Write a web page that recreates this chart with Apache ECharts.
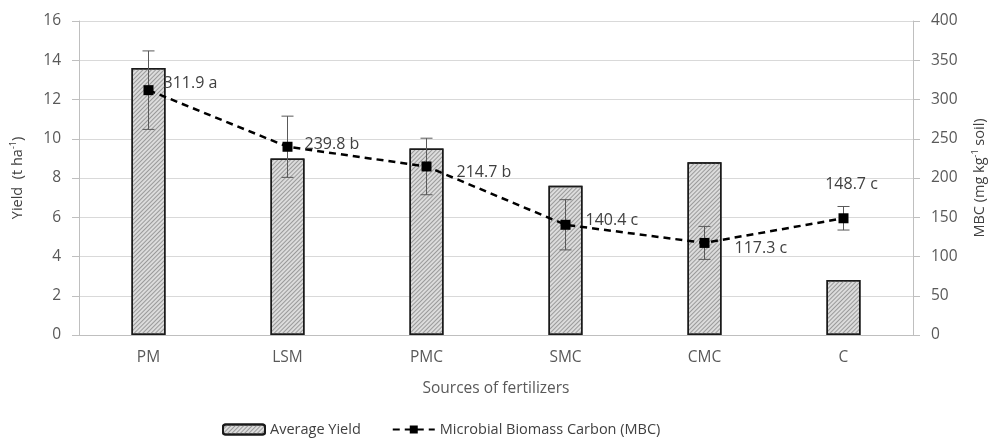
<!DOCTYPE html>
<html><head><meta charset="utf-8">
<script src="https://cdn.jsdelivr.net/npm/echarts@6/dist/echarts.min.js"></script>
<style>html,body{margin:0;padding:0;background:#fff}#c{width:992px;height:444px}</style>
</head><body><div id="c"></div>
<script>
var categories = ['PM','LSM','PMC','SMC','CMC','C'];
var yieldValues = [13.6, 9.0, 9.5, 7.6, 8.8, 2.8];
var mbcValues = [311.9, 239.8, 214.7, 140.4, 117.3, 148.7];
var mbcErrors = [50, 39, 36, 32, 21, 15];
var mbcLetters = ['a','b','b','c','c','c'];
var yieldTicks = [0,2,4,6,8,10,12,14,16];
var mbcTicks = [0,50,100,150,200,250,300,350,400];

var FONT = 'Open Sans';
var txt = '#595959';
var labelPos = [
  {position:'right', offset:[5,-7]},
  {position:'right', offset:[7,-2]},
  {position:'right', offset:[20,6]},
  {position:'right', offset:[10,-4]},
  {position:'right', offset:[20,6]},
  {position:'top', offset:[8,-16]}
];
var chart = echarts.init(document.getElementById('c'), null, {renderer:'canvas'});
var errData = categories.map(function(c,i){ return [i, mbcValues[i]-mbcErrors[i], mbcValues[i]+mbcErrors[i]]; });
chart.setOption({
  animation:false,
  textStyle:{fontFamily:FONT},
  grid:{left:79,right:79,top:21,bottom:109,containLabel:false,outerBoundsMode:'none'},
  legend:{
    bottom:2, left:217, itemGap:31, itemWidth:42, itemHeight:10,
    textStyle:{fontFamily:FONT,fontSize:14.5,color:'#404040'},
    data:[{name:'Average Yield'},{name:'Microbial Biomass Carbon (MBC)'}]
  },
  xAxis:{
    type:'category', data:categories,
    name:'Sources of fertilizers', nameLocation:'middle', nameGap:46,
    nameTextStyle:{fontSize:15.5,color:txt,fontFamily:FONT},
    axisLine:{lineStyle:{color:'#bfbfbf',width:1}},
    axisTick:{show:false},
    axisLabel:{fontSize:15.5,color:txt,margin:15,fontFamily:FONT}
  },
  yAxis:[{
    type:'value', min:0, max:16, interval:2,
    name:'{a|Yield  (t ha}{s|-1}{a|)}', nameLocation:'middle', nameGap:53, nameRotate:90,
    nameTextStyle:{rich:{a:{fontSize:14.5,color:'#404040',fontFamily:FONT},s:{fontSize:9,color:'#404040',padding:[0,0,8,0],fontFamily:FONT}}},
    axisLine:{show:true,lineStyle:{color:'#bfbfbf'}},
    axisTick:{show:true,length:7,lineStyle:{color:'#bfbfbf'}},
    axisLabel:{fontSize:15.5,color:txt,margin:18,fontFamily:FONT},
    splitLine:{lineStyle:{color:'#d9d9d9',width:1}}
  },{
    type:'value', min:0, max:400, interval:50,
    name:'{a|MBC (mg kg}{s|-1}{a| soil)}', nameLocation:'middle', nameGap:58, nameRotate:90,
    nameTextStyle:{rich:{a:{fontSize:14.5,color:'#404040',fontFamily:FONT},s:{fontSize:9,color:'#404040',padding:[0,0,8,0],fontFamily:FONT}}},
    axisLine:{show:true,lineStyle:{color:'#bfbfbf'}},
    axisTick:{show:true,length:7,lineStyle:{color:'#bfbfbf'}},
    axisLabel:{fontSize:15.5,color:txt,margin:18,fontFamily:FONT},
    splitLine:{show:false}
  }],
  series:[{
    name:'Average Yield', type:'bar', data:yieldValues, barWidth:34, yAxisIndex:0,
    itemStyle:{color:'#dcdcdc', borderColor:'#1a1a1a', borderWidth:1.5,
      decal:{symbol:'rect', symbolSize:1, dashArrayX:[1,0], dashArrayY:[1,1.5], rotation:-Math.PI/4, color:'#9a9a9a'}}
  },{
    name:'Microbial Biomass Carbon (MBC)', type:'line', yAxisIndex:1, z:5,
    data:mbcValues.map(function(v,i){ return {value:v, label:{position:labelPos[i].position, offset:labelPos[i].offset}}; }),
    symbol:'rect', symbolSize:10,
    lineStyle:{color:'#000',width:2.5,type:[7,5]},
    itemStyle:{color:'#000'},
    label:{show:true, fontSize:16, color:'#404040', fontFamily:FONT,
      formatter:function(p){ return mbcValues[p.dataIndex].toFixed(1)+' '+mbcLetters[p.dataIndex]; }}
  },{
    name:'err', type:'custom', yAxisIndex:1, z:4, data:errData,
    renderItem:function(params, api){
      var x = api.value(0);
      var lo = api.coord([x, api.value(1)]);
      var hi = api.coord([x, api.value(2)]);
      var w = 6;
      var st = {stroke:'#595959', lineWidth:1};
      return {type:'group', children:[
        {type:'line', shape:{x1:lo[0],y1:lo[1],x2:hi[0],y2:hi[1]}, style:st},
        {type:'line', shape:{x1:lo[0]-w,y1:lo[1],x2:lo[0]+w,y2:lo[1]}, style:st},
        {type:'line', shape:{x1:hi[0]-w,y1:hi[1],x2:hi[0]+w,y2:hi[1]}, style:st}
      ]};
    }
  }]
});
</script></body></html>
